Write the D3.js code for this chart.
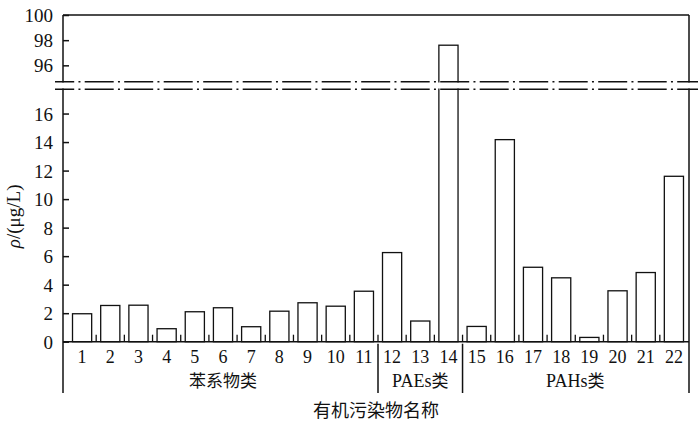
<!DOCTYPE html>
<html><head><meta charset="utf-8">
<script src="https://cdn.jsdelivr.net/npm/d3@7"></script>
<style>
body{margin:0;background:#fff;}
svg text{font-family:"Liberation Serif","Times New Roman",Times,"DejaVu Serif",serif;fill:#111;}
svg text .cjk, svg text.cjk{font-family:"Noto Sans CJK SC","Noto Sans CJK JP",sans-serif;}
</style></head><body>
<svg id="c" width="700" height="425"></svg>
<script>
const categories = ["1","2","3","4","5","6","7","8","9","10","11","12","13","14","15","16","17","18","19","20","21","22"];
const values = [1.96,2.54,2.56,0.91,2.10,2.38,1.05,2.14,2.73,2.49,3.54,6.25,1.45,97.6,1.07,14.17,5.22,4.48,0.30,3.57,4.85,11.6];
const lowerTicks = [0,2,4,6,8,10,12,14,16];
const upperTicks = [96,98,100];
const groupNames = ["苯系物类","PAEs类","PAHs类"];
const groupStart = ["1","12","15"];
const groupEnd = ["11","14","22"];
const groupLabelAt = [6,13,18.5];
const lowerDomain = [0,17.7];
const upperDomain = [94.7,100];

const svg = d3.select("#c");
const L = 63, R = 689, T = 15, B = 341.7, breakTop = 81.7, breakBot = 89.3, bracketBottom = 393;
const serif = '"Liberation Serif","Times New Roman",Times,"DejaVu Serif",serif';

const x = d3.scaleBand().domain(categories).range([68,688]).paddingInner(0.32).paddingOuter(0.16);
const yLow = d3.scaleLinear().domain(lowerDomain).range([B, breakBot]);
const yUp = d3.scaleLinear().domain(upperDomain).range([breakTop, T]);
const yPos = v => v <= lowerDomain[1] ? yLow(v) : yUp(v);
const gapAfter = c => x(c) + x.bandwidth() + x.step()*x.paddingInner()/2;
const ink = "#111";

// bars
svg.append("g").selectAll("rect").data(categories).join("rect")
  .attr("x", c => x(c)).attr("width", x.bandwidth())
  .attr("y", (c,i) => yPos(values[i])).attr("height", (c,i) => B - yPos(values[i]))
  .attr("fill","#fff").attr("stroke",ink).attr("stroke-width",1.3);

// frame: top, left, right
svg.append("line").attr("x1",L).attr("x2",R).attr("y1",T).attr("y2",T).attr("stroke",ink).attr("stroke-width",1.5);
[L,R].forEach(xx=>{
  svg.append("line").attr("x1",xx).attr("x2",xx).attr("y1",T).attr("y2",bracketBottom).attr("stroke",ink).attr("stroke-width",1.5);
});
// baseline
svg.append("line").attr("x1",L).attr("x2",R).attr("y1",B).attr("y2",B).attr("stroke",ink).attr("stroke-width",1.5);

// y axes (ticks inward)
const axL = d3.axisLeft(yLow).tickValues(lowerTicks).tickSize(-6).tickPadding(10).tickFormat(d3.format("d"));
const axU = d3.axisLeft(yUp).tickValues(upperTicks).tickSize(-6).tickPadding(10).tickFormat(d3.format("d"));
[axL,axU].forEach(ax=>{
  const g = svg.append("g").attr("transform",`translate(${L},0)`).call(ax);
  g.attr("font-family", serif);
  g.select(".domain").remove();
  g.selectAll("line").attr("stroke",ink).attr("stroke-width",1.5);
  g.selectAll("text").attr("font-size",19).style("font-family",serif).attr("fill",ink).attr("dy","0.34em");
});

// minor ticks between bars
svg.append("g").selectAll("line").data(categories.slice(0,-1)).join("line")
  .attr("x1", c => gapAfter(c)).attr("x2", c => gapAfter(c))
  .attr("y1", B).attr("y2", B-7).attr("stroke",ink).attr("stroke-width",1.3);

// group separators below axis
groupEnd.slice(0,-1).forEach(c=>{
  const xx = gapAfter(c);
  svg.append("line").attr("x1",xx).attr("x2",xx).attr("y1",B+2).attr("y2",bracketBottom).attr("stroke",ink).attr("stroke-width",1.5);
});

// category labels
svg.append("g").selectAll("text").data(categories).join("text")
  .attr("x", c => x(c)+x.bandwidth()/2).attr("y", 363)
  .attr("text-anchor","middle").attr("font-size",18).style("font-family",serif).text(c=>c);

// group labels
groupNames.forEach((n,i)=>{
  const a = Math.floor(groupLabelAt[i]), b = Math.ceil(groupLabelAt[i]);
  const cx = (x(String(a)) + x(String(b)))/2 + x.bandwidth()/2;
  const t = svg.append("text").attr("x",cx).attr("y",387).attr("text-anchor","middle").attr("font-size",18).style("font-family",serif);
  const m = n.match(/^([A-Za-z]*)(.*)$/);
  if (m[1]) t.append("tspan").text(m[1]);
  t.append("tspan").attr("class","cjk").attr("font-size",17).text(m[2]);
});

// x axis title
svg.append("text").attr("class","cjk").attr("x",(L+R)/2).attr("y",417).attr("text-anchor","middle").attr("font-size",18).text("有机污染物名称");

// y axis title
const yt = svg.append("text").attr("transform",`translate(20,${(T+B)/2+38}) rotate(-90)`).attr("text-anchor","middle").attr("font-size",19).style("font-family",serif);
yt.append("tspan").attr("font-style","italic").text("ρ");
yt.append("tspan").text("/(μg/L)");

// axis break
svg.append("rect").attr("x",L-10).attr("y",breakTop+0.8).attr("width",R-L+20).attr("height",breakBot-breakTop-1.6).attr("fill","#fff");
[breakTop,breakBot].forEach(yy=>{
  svg.append("line").attr("x1",55).attr("x2",698).attr("y1",yy).attr("y2",yy)
    .attr("stroke",ink).attr("stroke-width",1.4)
    .attr("stroke-dasharray","29,4.25,2,4.25").attr("stroke-dashoffset",9.8);
});
</script>
</body></html>
